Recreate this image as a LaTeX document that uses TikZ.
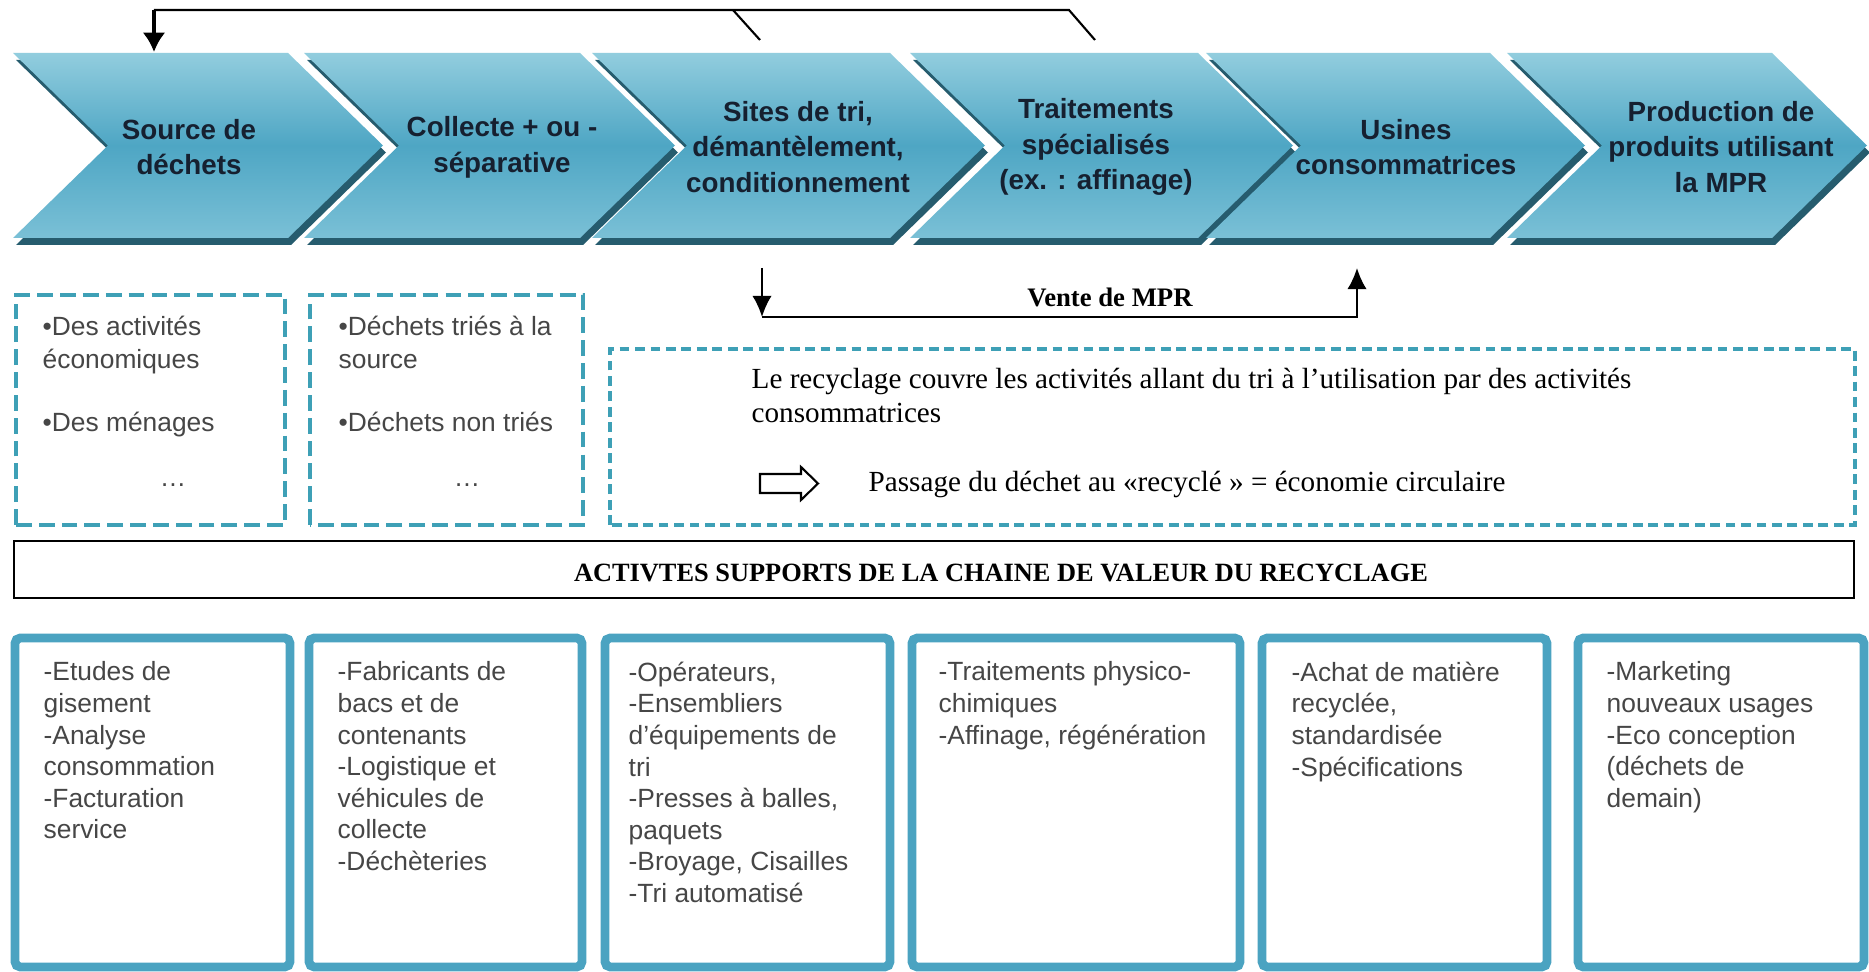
\documentclass[tikz,border=0pt]{standalone}
\usepackage{fontspec}
\setmainfont{Liberation Serif}
\setsansfont{Liberation Sans}
\usetikzlibrary{arrows.meta}

\definecolor{chevtop}{RGB}{146,205,222}
\definecolor{chevmid}{RGB}{78,166,196}
\definecolor{chevbot}{RGB}{122,192,214}
\definecolor{chevshade}{RGB}{38,92,110}
\definecolor{chevink}{RGB}{22,32,48}
\definecolor{dashteal}{RGB}{62,160,182}
\definecolor{boxteal}{RGB}{75,163,193}
\definecolor{graytext}{RGB}{70,70,70}

\begin{document}
\begin{tikzpicture}[
  chevtext/.style={font=\sffamily\bfseries\fontsize{7.9}{10.2}\selectfont, text=chevink, align=center},
  listtext/.style={font=\sffamily\fontsize{7.5}{9.4}\selectfont, text=graytext, align=left, inner sep=0pt},
  suptext/.style={font=\sffamily\fontsize{7.5}{9}\selectfont, text=graytext, align=left, inner sep=0pt, anchor=north west},
  recytext/.style={font=\fontsize{8.3}{9.4}\selectfont, align=left, inner sep=0pt},
  dashbox/.style={draw=dashteal, line width=1.2pt, dash pattern=on 4.5pt off 2pt},
  dashwide/.style={draw=dashteal, line width=1pt, dash pattern=on 2.8pt off 1.6pt},
  supbox/.style={draw=boxteal, line width=2.5pt, rounded corners=1.5pt},
  flow/.style={line width=0.6pt},
  flowarrow/.style={line width=0.6pt, -{Latex[length=6pt,width=5.5pt]}},
  backarrow/.style={line width=1.2pt, -{Latex[length=5.5pt,width=6.5pt]}},
]
\useasboundingbox (0,0) rectangle (18.69,9.72);
\fill[white] (0,0) rectangle (18.69,9.72);

% Chevrons of the value chain
\foreach \l/\r in {0.13/2.88, 3.04/5.80, 5.92/8.90, 9.10/11.98, 12.06/14.90, 15.07/17.72} {
  \fill[chevshade, shift={(0.03,-0.07)}] (\l,9.19) -- (\r,9.19) -- (\r+0.95,8.265) -- (\r,7.34) -- (\l,7.34) -- (\l+0.95,8.265) -- cycle;
  \shade[top color=chevtop, bottom color=chevbot, middle color=chevmid] (\l,9.19) -- (\r,9.19) -- (\r+0.95,8.265) -- (\r,7.34) -- (\l,7.34) -- (\l+0.95,8.265) -- cycle;
}
\node[chevtext] (src) at (1.89,8.25) {Source de\\déchets};
\node[chevtext] (coll) at (5.02,8.25) {Collecte + ou -\\séparative};
\node[chevtext] (tri) at (7.98,8.25) {Sites de tri,\\démantèlement,\\conditionnement};
\node[chevtext] (trait) at (10.96,8.25) {Traitements\\spécialisés\\(ex. : affinage)};
\node[chevtext] (usine) at (14.06,8.25) {Usines\\consommatrices};
\node[chevtext] (prod) at (17.21,8.25) {Production de\\produits utilisant\\la MPR};

% Loop back to the source
\coordinate (backtri) at (7.60,9.32);
\coordinate (backtrait) at (10.95,9.32);
\coordinate (backturn) at (10.69,9.62);
\coordinate (backcorner) at (1.54,9.62);
\coordinate (backsrc) at (1.54,9.20);
\draw[flow] (backtrait) -- (backturn) -- (backcorner);
\draw[flow] (backtri) -- (7.33,9.62);
\draw[backarrow] (backcorner) -- (backsrc);

% Vente de MPR
\coordinate (sellA) at (7.62,7.04);
\coordinate (sellB) at (7.62,6.55);
\coordinate (sellC) at (13.57,6.55);
\coordinate (sellD) at (13.57,7.04);
\draw[flowarrow] (sellA) -- (sellB);
\draw[flowarrow] (sellB) -- (sellC) -- (sellD);
\node[font=\bfseries\fontsize{7.6}{9}\selectfont] (vente) at (11.10,6.75) {Vente de MPR};

% Sources and collection
\draw[dashbox] (0.16,4.47) rectangle (2.85,6.77);
\node[listtext, anchor=north west] (srclist) at (0.42,6.57) {\textbullet Des activités\\économiques\\[8.5pt]\textbullet Des ménages};
\node[listtext] (srcdots) at (1.73,4.87) {…};
\draw[dashbox] (3.10,4.47) rectangle (5.83,6.77);
\node[listtext, anchor=north west] (colllist) at (3.38,6.57) {\textbullet Déchets triés à la\\source\\[8.5pt]\textbullet Déchets non triés};
\node[listtext] (colldots) at (4.67,4.87) {…};

% Recycling scope
\draw[dashwide] (6.10,4.47) rectangle (18.55,6.23);
\node[recytext, anchor=north west] (recy) at (7.51,6.04) {Le recyclage couvre les activités allant du tri à l’utilisation par des activités\\consommatrices};
\draw[fill=white, line width=0.6pt] (7.60,4.79) -- (8.01,4.79) -- (8.01,4.72) -- (8.18,4.885) -- (8.01,5.05) -- (8.01,4.98) -- (7.60,4.98) -- cycle;
\node[recytext, anchor=west] (pass) at (8.68,4.87) {Passage du déchet au «recyclé » = économie circulaire};

% Support activities
\draw[line width=0.6pt] (0.14,3.74) rectangle (18.54,4.31);
\node[font=\bfseries\fontsize{7.5}{9}\selectfont] (supp) at (10.01,3.99) {ACTIVTES SUPPORTS DE LA CHAINE DE VALEUR DU RECYCLAGE};

\foreach \l/\r in {0.15/2.90, 3.09/5.82, 6.05/8.90, 9.12/12.40, 12.62/15.47, 15.78/18.64}
  \draw[supbox] (\l,0.05) rectangle (\r,3.34);
\node[suptext] (sup1) at (0.43,3.11) {-Etudes de\\gisement\\-Analyse\\consommation\\-Facturation\\service};
\node[suptext] (sup2) at (3.37,3.11) {-Fabricants de\\bacs et de\\contenants\\-Logistique et\\véhicules de\\collecte\\-Déchèteries};
\node[suptext] (sup3) at (6.28,3.11) {-Opérateurs,\\-Ensembliers\\d’équipements de\\tri\\-Presses à balles,\\paquets\\-Broyage, Cisailles\\-Tri automatisé};
\node[suptext] (sup4) at (9.38,3.11) {-Traitements physico-\\chimiques\\-Affinage, régénération};
\node[suptext] (sup5) at (12.91,3.11) {-Achat de matière\\recyclée,\\standardisée\\-Spécifications};
\node[suptext] (sup6) at (16.06,3.11) {-Marketing\\nouveaux usages\\-Eco conception\\(déchets de\\demain)};
\end{tikzpicture}
\end{document}
